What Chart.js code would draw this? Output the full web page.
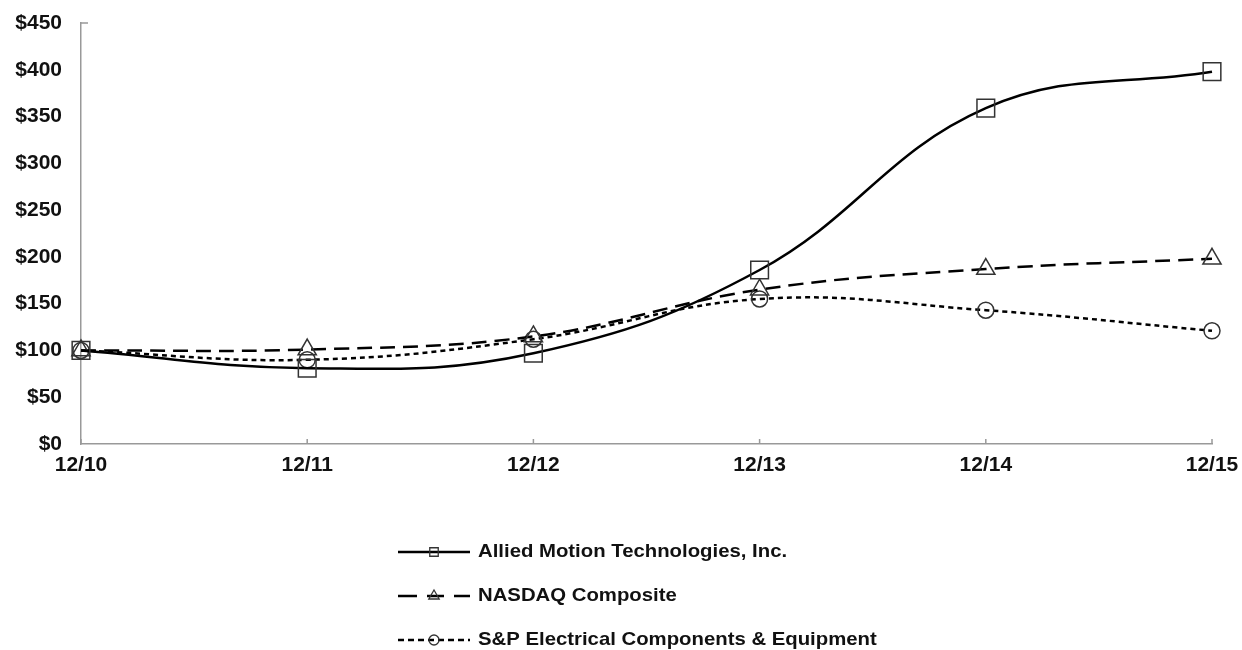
<!DOCTYPE html>
<html>
<head>
<meta charset="utf-8">
<script src="https://cdn.jsdelivr.net/npm/chart.js@4.4.1/dist/chart.umd.min.js"></script>
<style>
  html, body { margin: 0; padding: 0; background: #fff; }
  #wrap { width: 1242px; height: 650px; position: relative; }
</style>
</head>
<body>
<div id="wrap"><canvas id="perfChart"></canvas></div>
<script>
const years = ['12/10', '12/11', '12/12', '12/13', '12/14', '12/15'];
const alliedValues = [100, 81, 97, 186, 359, 398];
const nasdaqValues = [100, 101, 115, 165, 187, 198];
const spElecValues = [100, 90, 112, 155, 143, 121];
const seriesNames = [
    'Allied Motion Technologies, Inc.',
    'NASDAQ Composite',
    'S&P Electrical Components & Equipment'
];

const FONT = '"Liberation Sans", Arial, sans-serif';

// legend drawn by hand: line sample with marker in the middle
const lineLegend = {
    id: 'lineLegend',
    afterDraw(chart) {
        const ctx = chart.ctx;
        const x0 = 398, x1 = 470, rows = [552, 596, 640];
        chart.data.datasets.forEach((ds, i) => {
            const y = rows[i];
            ctx.save();
            ctx.strokeStyle = '#000';
            ctx.lineWidth = 2.5;
            ctx.setLineDash(ds.legendDash);
            ctx.beginPath();
            ctx.moveTo(x0, y);
            ctx.lineTo(x1, y);
            ctx.stroke();
            ctx.setLineDash([]);
            ctx.lineWidth = 1.3;
            ctx.strokeStyle = '#333';
            ctx.fillStyle = 'rgba(0,0,0,0)';
            const cx = (x0 + x1) / 2;
            Chart.helpers.drawPoint(ctx, {
                pointStyle: ds.pointStyle,
                radius: ds.pointStyle === 'circle' ? 5 : 6,
                borderWidth: 1.3
            }, cx, y);
            // original text looks a bit wide, stretch it slightly
            ctx.translate(478, y);
            ctx.scale(1.07, 1);
            ctx.fillStyle = '#111';
            ctx.font = 'bold 19px ' + FONT;
            ctx.textBaseline = 'middle';
            ctx.fillText(ds.label, 0, 0);
            ctx.restore();
        });
    }
};

// small inward tick marks like the original
const innerTicks = {
    id: 'innerTicks',
    afterDatasetsDraw(chart) {
        const ctx = chart.ctx;
        const { x, y } = chart.scales;
        ctx.save();
        ctx.strokeStyle = '#999';
        ctx.lineWidth = 1.5;
        ctx.beginPath();
        x.ticks.forEach((t, i) => {
            const px = x.getPixelForTick(i);
            ctx.moveTo(px, y.bottom);
            ctx.lineTo(px, y.bottom - 5);
        });
        ctx.moveTo(x.left, y.top);
        ctx.lineTo(x.left + 7, y.top);
        ctx.stroke();
        ctx.restore();
    }
};

function makeSet(label, data, dash, legendDash, style, radius) {
    return {
        label: label,
        data: data,
        borderColor: '#000',
        borderWidth: 2.5,
        borderDash: dash,
        legendDash: legendDash,
        tension: 0.4,
        pointStyle: style,
        pointRadius: radius,
        pointBorderColor: '#333',
        pointBorderWidth: 1.5,
        pointBackgroundColor: 'rgba(0,0,0,0)',
        fill: false
    };
}

new Chart(document.getElementById('perfChart').getContext('2d'), {
    type: 'line',
    data: {
        labels: years,
        datasets: [
            makeSet(seriesNames[0], alliedValues, [], [], 'rect', 12.5),
            makeSet(seriesNames[1], nasdaqValues, [15, 8], [19, 10, 17, 10], 'triangle', 10.5),
            makeSet(seriesNames[2], spElecValues, [5, 4], [6, 4], 'circle', 8)
        ]
    },
    options: {
        responsive: true,
        maintainAspectRatio: false,
        animation: false,
        layout: { padding: { left: 0, right: 30, top: 23, bottom: 166 } },
        plugins: {
            legend: { display: false },
            tooltip: { enabled: false }
        },
        scales: {
            x: {
                offset: false,
                grid: { display: false, drawTicks: false },
                border: { color: '#999', width: 1.5 },
                ticks: {
                    color: '#111',
                    padding: 9,
                    maxRotation: 0,
                    font: { family: FONT, size: 21, weight: 'bold' }
                },
                afterFit(scale) {
                    scale.height = 40;
                    scale.paddingLeft = 0;
                    scale.paddingRight = 0;
                }
            },
            y: {
                min: 0,
                max: 450,
                grid: { display: false, drawTicks: false },
                border: { color: '#999', width: 1.5 },
                ticks: {
                    stepSize: 50,
                    color: '#111',
                    padding: 19,
                    font: { family: FONT, size: 21, weight: 'bold' },
                    callback: v => '$' + v
                },
                afterFit(scale) {
                    scale.width = 81;
                    scale.paddingTop = 0;
                    scale.paddingBottom = 0;
                }
            }
        }
    },
    plugins: [innerTicks, lineLegend]
});
</script>
</body>
</html>
